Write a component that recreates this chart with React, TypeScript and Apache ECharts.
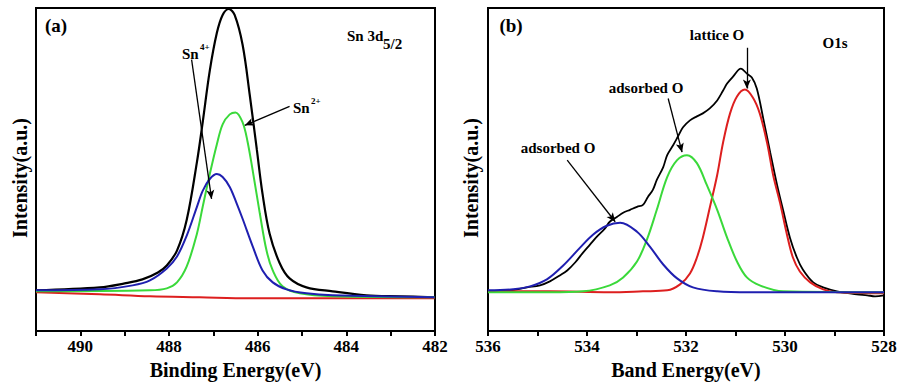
import React, { useEffect, useRef } from "react";
import * as echarts from "echarts";

// ---------- Panel (a): Sn 3d5/2 ----------
const snBlackE = [491.0, 489.56, 489.0, 488.6, 488.25, 488.05, 487.82, 487.6, 487.37, 487.24, 487.08, 486.92, 486.79, 486.65, 486.52, 486.34, 486.18, 486.02, 485.89, 485.73, 485.5, 485.28, 484.9, 484.31, 483.55, 482.8, 482.01];
const snBlackI = [41, 44, 48, 52, 59, 66, 81, 112, 170, 210, 262, 300, 318, 324, 318, 288, 238, 183, 138, 98, 68, 53, 44, 40, 36, 35, 34];

const snGreenE = [491.0, 488.43, 488.05, 487.82, 487.6, 487.37, 487.24, 487.08, 486.92, 486.79, 486.63, 486.5, 486.34, 486.23, 486.11, 485.95, 485.8, 485.66, 485.44, 485.05, 484.31, 482.01];
const snGreenI = [40, 41, 43, 49, 65, 98, 125, 158, 188, 208, 218, 220, 210, 191, 161, 118, 81, 61, 45, 38, 35, 34];

const snBlueE = [491.0, 489.56, 488.82, 488.43, 488.05, 487.82, 487.6, 487.37, 487.24, 487.08, 486.92, 486.79, 486.63, 486.47, 486.34, 486.11, 485.89, 485.66, 485.35, 484.9, 484.31, 482.01];
const snBlueI = [41, 42, 46, 51, 63, 75, 96, 125, 141, 153, 158, 155, 145, 128, 113, 85, 61, 49, 42, 38, 36, 34];

const snRedE = [491.0, 489.56, 488.43, 487.31, 486.18, 482.01];
const snRedI = [39, 37, 35, 34, 33, 33];

// ---------- Panel (b): O1s ----------
const oBlackE = [536.0, 535.56, 535.21, 534.95, 534.75, 534.55, 534.4, 534.24, 534.08, 533.94, 533.8, 533.64, 533.54, 533.39, 533.27, 533.13, 532.99, 532.87, 532.77, 532.67, 532.59, 532.46, 532.38, 532.26, 532.16, 532.06, 531.92, 531.78, 531.66, 531.52, 531.37, 531.25, 531.17, 531.05, 530.89, 530.77, 530.67, 530.57, 530.44, 530.3, 530.16, 530.04, 529.9, 529.76, 529.64, 529.43, 529.23, 528.95, 528.69, 528.55, 528.34, 528.18, 528.0];
const oBlackI = [40, 41, 44, 46, 50, 56, 61, 69, 79, 87, 95, 103, 110, 115, 119, 122, 125, 127, 135, 142, 152, 165, 177, 187, 196, 205, 212, 216, 219, 224, 232, 242, 249, 256, 264, 259, 255, 244, 214, 180, 147, 122, 94, 74, 62, 49, 44, 40, 38, 37, 36, 35, 36];

const oRedE = [536.0, 534.75, 533.54, 532.87, 532.38, 532.12, 531.92, 531.78, 531.66, 531.52, 531.37, 531.25, 531.11, 530.97, 530.81, 530.65, 530.51, 530.36, 530.24, 530.1, 529.96, 529.84, 529.7, 529.49, 529.23, 528.95, 528.0];
const oRedI = [40, 40, 39, 40, 41, 47, 58, 74, 94, 124, 157, 190, 219, 236, 243, 235, 219, 189, 157, 129, 97, 74, 60, 49, 42, 39, 38];

const oGreenE = [536.0, 534.75, 534.08, 533.54, 533.27, 532.99, 532.79, 532.59, 532.38, 532.18, 531.98, 531.78, 531.58, 531.37, 531.17, 530.97, 530.77, 530.51, 530.04, 528.0];
const oGreenI = [39, 39, 40, 46, 54, 70, 92, 122, 155, 172, 177, 169, 147, 122, 94, 70, 54, 46, 40, 39];

const oBlueE = [536.0, 535.49, 535.15, 534.81, 534.48, 534.14, 533.88, 533.6, 533.33, 532.99, 532.73, 532.46, 532.18, 531.86, 531.37, 530.71, 528.0];
const oBlueI = [41, 42, 45, 52, 66, 84, 97, 106, 109, 100, 85, 67, 53, 44, 40, 39, 39];

// ---------- Axes ----------
const snRange = [482, 491];
const oRange = [528, 536];
const yRange = [0, 325];

// ---------- Annotation arrows (data coords: [start, end]) ----------
const snArrows = [
  [[487.49, 273], [487.04, 133]],
  [[485.28, 226], [486.29, 207]],
];
const oArrows = [
  [[530.77, 285], [530.77, 244]],
  [[532.36, 234], [532.08, 180]],
  [[534.4, 172], [533.43, 110]],
];

const FONT = "Liberation Serif";
const COLORS = { black: "#000000", red: "#dd1f1f", green: "#3ad93a", blue: "#1f1fb0" };

const zip = (xs: number[], ys: number[]) => xs.map((x, i) => [x, ys[i]]);

function xAxisCfg(gridIndex: number, range: number[], name: string) {
  return {
    type: "value",
    gridIndex,
    min: range[0],
    max: range[1],
    inverse: true,
    interval: 1,
    axisLine: { show: true, onZero: false, lineStyle: { color: "#000", width: 2 } },
    axisTick: { show: true, inside: false, length: 5, lineStyle: { color: "#000", width: 2 } },
    axisLabel: {
      formatter: (v: number) => (v % 2 === 0 ? String(v) : ""),
      color: "#000",
      fontSize: 17,
      fontWeight: "bold",
      fontFamily: FONT,
      margin: 7,
    },
    splitLine: { show: false },
    name,
    nameLocation: "middle",
    nameGap: 19,
    nameTextStyle: { color: "#000", fontSize: 20, fontWeight: "bold", fontFamily: FONT, verticalAlign: "top" },
  };
}

function yAxisCfg(gridIndex: number) {
  return {
    type: "value",
    gridIndex,
    min: yRange[0],
    max: yRange[1],
    show: false,
    splitLine: { show: false },
  };
}

function lineSeries(x: number[], y: number[], color: string, idx: number, width = 2) {
  return {
    type: "line",
    xAxisIndex: idx,
    yAxisIndex: idx,
    data: zip(x, y),
    smooth: 0.35,
    showSymbol: false,
    symbol: "none",
    lineStyle: { color, width },
    itemStyle: { color },
    silent: true,
  };
}

function arrowSeries(arrows: number[][][], idx: number) {
  return {
    type: "line",
    xAxisIndex: idx,
    yAxisIndex: idx,
    data: [],
    silent: true,
    markLine: {
      silent: true,
      symbol: ["none", "arrow"],
      symbolSize: [6, 9],
      label: { show: false },
      lineStyle: { color: "#000", width: 1.3, type: "solid" },
      data: arrows.map((a) => [{ coord: a[0] }, { coord: a[1] }]),
    },
  };
}

function txt(x: number, y: number, text: string, fontSize: number, align = "center", rotation = 0) {
  return {
    type: "text",
    x,
    y,
    rotation,
    silent: true,
    style: {
      text,
      fill: "#000",
      fontFamily: FONT,
      fontWeight: "bold",
      fontSize,
      align,
      verticalAlign: "middle",
    },
  };
}

export default function App() {
  const ref = useRef<HTMLDivElement>(null);
  useEffect(() => {
    document.body.style.margin = "0";
    if (!ref.current) return;
    const chart = echarts.init(ref.current, undefined, { renderer: "svg" });
    chart.setOption({
      animation: false,
      backgroundColor: "#ffffff",
      textStyle: { fontFamily: FONT },
      grid: [
        { left: 36, right: 465, top: 8, bottom: 52, show: true, borderColor: "#000", borderWidth: 2, backgroundColor: "transparent" },
        { left: 488, right: 16, top: 8, bottom: 52, show: true, borderColor: "#000", borderWidth: 2, backgroundColor: "transparent" },
      ],
      xAxis: [xAxisCfg(0, snRange, "Binding Energy(eV)"), xAxisCfg(1, oRange, "Band Energy(eV)")],
      yAxis: [yAxisCfg(0), yAxisCfg(1)],
      series: [
        lineSeries(snBlackE, snBlackI, COLORS.black, 0, 2.2),
        lineSeries(snRedE, snRedI, COLORS.red, 0),
        lineSeries(snGreenE, snGreenI, COLORS.green, 0),
        lineSeries(snBlueE, snBlueI, COLORS.blue, 0),
        arrowSeries(snArrows, 0),
        lineSeries(oBlackE, oBlackI, COLORS.black, 1, 1.8),
        lineSeries(oRedE, oRedI, COLORS.red, 1),
        lineSeries(oGreenE, oGreenI, COLORS.green, 1),
        lineSeries(oBlueE, oBlueI, COLORS.blue, 1),
        arrowSeries(oArrows, 1),
      ],
      graphic: [
        txt(20, 178, "Intensity(a.u.)", 20, "center", Math.PI / 2),
        txt(471, 178, "Intensity(a.u.)", 20, "center", Math.PI / 2),
        txt(56, 25, "(a)", 19),
        txt(347, 36, "Sn 3d", 15, "left"),
        txt(383, 44, "5/2", 15, "left"),
        txt(182, 54, "Sn", 15, "left"),
        txt(200, 47, "4+", 9, "left"),
        txt(293, 108, "Sn", 15, "left"),
        txt(311, 101, "2+", 9, "left"),
        txt(511, 25, "(b)", 19),
        txt(717, 35, "lattice O", 15),
        txt(835, 43, "O1s", 15),
        txt(646, 88, "adsorbed O", 15),
        txt(558, 148, "adsorbed O", 15),
      ],
    });
    return () => chart.dispose();
  }, []);
  return <div ref={ref} style={{ width: 900, height: 385 }} />;
}
